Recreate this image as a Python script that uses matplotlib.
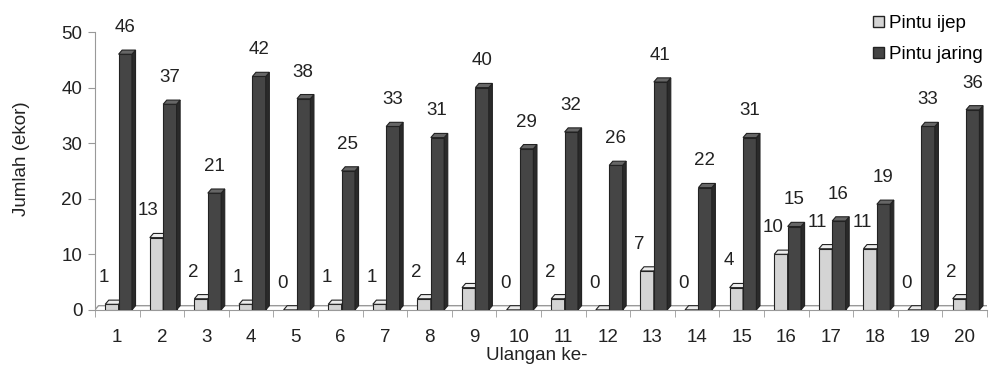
import numpy as np
import matplotlib.pyplot as plt
from matplotlib.patches import Polygon, Patch

plt.rcParams['font.family'] = ['Liberation Sans', 'DejaVu Sans']

ulangan = [str(i) for i in range(1, 21)]
pintu_ijep = [1, 13, 2, 1, 0, 1, 1, 2, 4, 0, 2, 0, 7, 0, 4, 10, 11, 11, 0, 2]
pintu_jaring = [46, 37, 21, 42, 38, 25, 33, 31, 40, 29, 32, 26, 41, 22, 31, 15, 16, 19, 33, 36]

x = np.arange(1, len(ulangan) + 1)
w = 0.3
dx, dy = 0.08, 0.75  # fake depth for the 3d look

fig = plt.figure(figsize=(9.89, 3.68), dpi=100)
ax = fig.add_axes([0.096, 0.158, 0.902, 0.755])


def bars3d(lefts, vals, front, side, top):
    ax.bar(lefts, vals, width=w, align="edge", color=front, edgecolor="#222222",
           linewidth=0.8, zorder=3)
    for l, v in zip(lefts, vals):
        r = l + w
        ax.add_patch(Polygon([(r, 0), (r + dx, dy), (r + dx, v + dy), (r, v)],
                             closed=True, facecolor=side, edgecolor="#222222",
                             linewidth=0.8, zorder=3))
        ax.add_patch(Polygon([(l, v), (l + dx, v + dy), (r + dx, v + dy), (r, v)],
                             closed=True, facecolor=top, edgecolor="#222222",
                             linewidth=0.8, zorder=3))


# floor
ax.plot([0.5, 0.5 + dx, 20.5], [0, dy, dy], color="#999999", lw=1, zorder=1)

bars3d(x - 0.27, pintu_ijep, "#d4d4d4", "#a8a8a8", "#ececec")
bars3d(x + 0.03, pintu_jaring, "#454545", "#2a2a2a", "#666666")

for xi, v in zip(x, pintu_ijep):
    ax.text(xi - 0.3, v + 4.8, str(v), ha="center", va="center", fontsize=13.5,
            color="#222222", clip_on=False)
for xi, v in zip(x, pintu_jaring):
    ax.text(xi + 0.17, v + 4.8, str(v), ha="center", va="center", fontsize=13.5,
            color="#222222", clip_on=False)

ax.set_xlim(0.5, 20.5)
ax.set_ylim(0, 50)
ax.set_yticks(range(0, 51, 10))
ax.set_xticks(x)
ax.set_xticklabels(ulangan)
ax.set_xticks(np.arange(0.5, 21, 1), minor=True)
ax.tick_params(axis="x", which="major", length=0, pad=14, labelsize=13.5, labelcolor="#222222")
ax.tick_params(axis="x", which="minor", length=5, color="#999999", direction="out")
ax.tick_params(axis="y", length=5, color="#999999", labelsize=13.5, labelcolor="#222222", pad=4)

for s in ["top", "right"]:
    ax.spines[s].set_visible(False)
for s in ["left", "bottom"]:
    ax.spines[s].set_color("#999999")

fig.text(0.022, 0.57, "Jumlah (ekor)", rotation=90, ha="center", va="center",
         fontsize=13.5, color="#222222")
fig.text(0.543, 0.035, "Ulangan ke-", ha="center", va="center", fontsize=13.5,
         color="#222222")

# legend
handles = [Patch(facecolor="#d4d4d4", edgecolor="#222222"),
           Patch(facecolor="#454545", edgecolor="#222222")]
fig.legend(handles, ["Pintu ijep", "Pintu jaring"], loc="upper left",
           bbox_to_anchor=(0.866, 1.005), frameon=False, fontsize=13.5,
           handlelength=0.55, handleheight=0.55, handletextpad=0.3,
           labelspacing=0.75)

fig.savefig("out.png", dpi=100)
